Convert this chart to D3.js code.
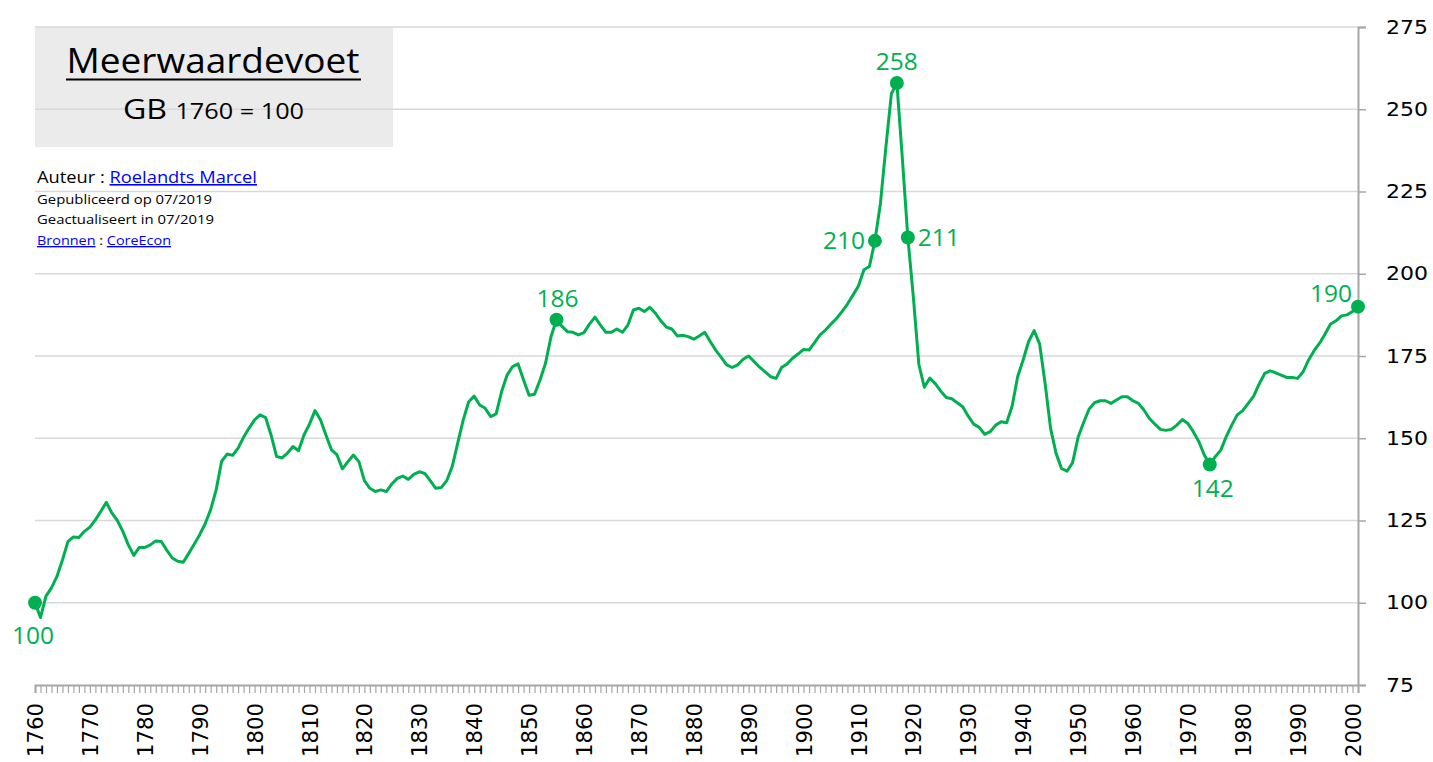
<!DOCTYPE html>
<html>
<head>
<meta charset="utf-8">
<script src="https://cdn.jsdelivr.net/npm/d3@7"></script>
<style>
  html, body { margin: 0; padding: 0; background: #fff; }
  svg { display: block; }
  text { font-family: "Open Sans", "Noto Sans", sans-serif; }
</style>
</head>
<body>
<svg id="chart" width="1433" height="762"></svg>
<script>
// Meerwaardevoet GB, 1760 = 100
const firstYear = 1760;
const lastYear = 2001;
const years = d3.range(firstYear, lastYear + 1);

// one value per year
const rate = [
  100, 95.5, 102, 104.5, 108, 113, 118.6, 120, 119.8, 121.7,           // 1760
  123, 125.2, 127.8, 130.5, 127.3, 125, 121.7, 117.6, 114.4, 116.8,    // 1770
  116.8, 117.6, 118.8, 118.6, 116, 113.6, 112.6, 112.3, 115, 117.8,    // 1780
  120.7, 124, 128.3, 134.3, 143, 145.2, 144.8, 147, 150.3, 153.1,      // 1790
  155.6, 157.1, 156.3, 151, 144.5, 144, 145.5, 147.5, 146.2, 151,      // 1800
  154.3, 158.4, 155.6, 151, 146.5, 145, 140.7, 142.9, 144.9, 142.9,    // 1810
  137.1, 134.8, 133.8, 134.3, 133.8, 136.1, 137.8, 138.5, 137.5, 139,  // 1820
  139.8, 139.3, 137.1, 134.8, 135, 137.1, 141.4, 148.5, 155.5, 161.1,  // 1830
  162.8, 160.1, 159.1, 156.6, 157.4, 164.2, 169.2, 171.8, 172.6, 167.7,// 1840
  163.1, 163.4, 167.7, 172.8, 180.9, 186, 184, 182.4, 182.2, 181.4,    // 1850
  182.1, 184.7, 186.8, 184.4, 182.2, 182.2, 183.2, 182.2, 184.4, 189,  // 1860
  189.5, 188.5, 189.8, 188, 185.7, 183.8, 183.2, 181.1, 181.3, 180.9,  // 1870
  180.1, 181.1, 182.2, 179.4, 176.8, 174.6, 172.3, 171.5, 172.3, 174,  // 1880
  175, 173.3, 171.6, 170.2, 168.7, 168.2, 171.5, 172.6, 174.3, 175.6,  // 1890
  177, 176.8, 179.1, 181.4, 182.9, 184.7, 186.4, 188.5, 190.8, 193.5,  // 1900
  196.3, 201.2, 202.2, 210, 221.3, 238.5, 254.7, 258, 235, 211,        // 1910
  193, 172.5, 165.5, 168.3, 166.6, 164.3, 162.4, 162, 160.8, 159.6,    // 1920
  156.7, 154.3, 153.3, 151.2, 152, 154, 155, 154.7, 159.8, 168.7,      // 1930
  173.8, 179.4, 182.7, 178.7, 166.7, 153, 145.4, 140.8, 140, 142.5,    // 1940
  150.2, 154.7, 158.8, 160.8, 161.4, 161.4, 160.6, 161.6, 162.6, 162.6,// 1950
  161.4, 160.6, 158.6, 156, 154.3, 152.7, 152.4, 152.7, 154, 155.7,    // 1960
  154.5, 152, 149, 144.9, 142, 144.4, 146.4, 150.5, 154, 157.1,        // 1970
  158.4, 160.6, 162.8, 166.5, 169.7, 170.5, 169.9, 169.2, 168.5, 168.5,// 1980
  168.2, 170.2, 173.8, 176.6, 178.9, 181.7, 184.7, 185.7, 187.2, 187.5,// 1990
  188.5, 190                                                           // 2000
];

const markedYears = [1760, 1855, 1913, 1917, 1919, 1974, 2001];
const markedLabels = ['100', '186', '210', '258', '211', '142', '190'];
const yTicks = [75, 100, 125, 150, 175, 200, 225, 250, 275];

const green = '#00b050';
const svg = d3.select('#chart');

const x = d3.scaleLinear().domain([firstYear, lastYear]).range([35, 1358]);
const y = d3.scaleLinear().domain([75, 275]).range([685, 27]);

const data = years.map((yr, i) => ({ year: yr, value: rate[i] }));

// title box
svg.append('rect')
  .attr('x', 35).attr('y', 27)
  .attr('width', 358).attr('height', 120)
  .attr('fill', '#ebebeb');

// gridlines
svg.append('g').selectAll('line')
  .data(yTicks.filter(d => d > 75))
  .enter().append('line')
  .attr('x1', 35).attr('x2', 1358)
  .attr('y1', d => y(d)).attr('y2', d => y(d))
  .attr('stroke', '#d9d9d9')
  .attr('stroke-width', 1.5);

// x axis
const xAxis = d3.axisBottom(x)
  .tickValues(years)
  .tickSize(8)
  .tickFormat(d => d % 10 === 0 ? d : '');

const gx = svg.append('g')
  .attr('transform', 'translate(0,685)')
  .call(xAxis);
gx.select('.domain').attr('stroke', '#a6a6a6').attr('stroke-width', 2);
gx.selectAll('.tick line').attr('stroke', '#a6a6a6').attr('stroke-width', 1.2);
gx.selectAll('.tick text')
  .attr('transform', 'rotate(-90)')
  .attr('text-anchor', 'end')
  .attr('x', -18).attr('y', 0).attr('dy', '0.36em')
  .attr('fill', '#000')
  .style('font-family', '"DejaVu Sans", sans-serif')
  .style('font-size', '21px')
  .filter(d => d % 10 === 0)
  .attr('textLength', 54)
  .attr('lengthAdjust', 'spacingAndGlyphs');

// y axis on the right
const yAxis = d3.axisRight(y)
  .tickValues(yTicks)
  .tickSize(8)
  .tickPadding(20);

const gy = svg.append('g')
  .attr('transform', 'translate(1358,0)')
  .call(yAxis);
gy.select('.domain').attr('stroke', '#a6a6a6').attr('stroke-width', 2);
gy.selectAll('.tick line').attr('stroke', '#a6a6a6').attr('stroke-width', 1.5);
gy.selectAll('.tick text')
  .attr('fill', '#000')
  .style('font-family', '"DejaVu Sans", sans-serif')
  .style('font-size', '19px')
  .attr('textLength', d => String(d).length * 14)
  .attr('lengthAdjust', 'spacingAndGlyphs');

// the line
const line = d3.line()
  .x(d => x(d.year))
  .y(d => y(d.value));

svg.append('path')
  .datum(data)
  .attr('fill', 'none')
  .attr('stroke', green)
  .attr('stroke-width', 3)
  .attr('stroke-linejoin', 'round')
  .attr('d', line);

// marked points
const marked = data.filter(d => markedYears.includes(d.year));
svg.append('g').selectAll('circle')
  .data(marked)
  .enter().append('circle')
  .attr('cx', d => x(d.year))
  .attr('cy', d => y(d.value))
  .attr('r', 7)
  .attr('fill', green);

// where each label sits relative to its point
const labelPlace = {
  1760: { dx: -2, dy: 41, anchor: 'middle' },
  1855: { dx: 1, dy: -13, anchor: 'middle' },
  1913: { dx: -10, dy: 8, anchor: 'end' },
  1917: { dx: 0, dy: -13, anchor: 'middle' },
  1919: { dx: 10, dy: 8, anchor: 'start' },
  1974: { dx: 3, dy: 32, anchor: 'middle' },
  2001: { dx: -6, dy: -5, anchor: 'end' }
};

svg.append('g').selectAll('text')
  .data(marked)
  .enter().append('text')
  .attr('x', d => x(d.year) + labelPlace[d.year].dx)
  .attr('y', d => y(d.value) + labelPlace[d.year].dy)
  .attr('text-anchor', d => labelPlace[d.year].anchor)
  .attr('fill', green)
  .style('font-size', '24.5px')
  .text(d => markedLabels[markedYears.indexOf(d.year)]);

// title
svg.append('text')
  .attr('x', 213).attr('y', 73)
  .attr('text-anchor', 'middle')
  .attr('textLength', 293).attr('lengthAdjust', 'spacingAndGlyphs')
  .style('font-size', '35px')
  .attr('fill', '#000')
  .text('Meerwaardevoet');
svg.append('line')
  .attr('x1', 66).attr('x2', 361)
  .attr('y1', 79.5).attr('y2', 79.5)
  .attr('stroke', '#000').attr('stroke-width', 2);

const sub = svg.append('text')
  .attr('x', 123).attr('y', 119)
  .attr('textLength', 181).attr('lengthAdjust', 'spacingAndGlyphs')
  .attr('fill', '#000');
sub.append('tspan').style('font-size', '28px').text('GB ');
sub.append('tspan').style('font-size', '22px').text('1760 = 100');

// credits
const credits = svg.append('g').attr('fill', '#000');
const auteur = credits.append('text')
  .attr('x', 37).attr('y', 183)
  .attr('textLength', 220).attr('lengthAdjust', 'spacingAndGlyphs')
  .style('font-size', '16px');
auteur.append('tspan').text('Auteur : ');
auteur.append('tspan').attr('fill', '#0000ff')
  .style('text-decoration', 'underline')
  .text('Roelandts Marcel');

credits.append('text')
  .attr('x', 37).attr('y', 204)
  .attr('textLength', 175).attr('lengthAdjust', 'spacingAndGlyphs')
  .style('font-size', '13.5px')
  .text('Gepubliceerd op 07/2019');
credits.append('text')
  .attr('x', 37).attr('y', 224)
  .attr('textLength', 177).attr('lengthAdjust', 'spacingAndGlyphs')
  .style('font-size', '13.5px')
  .text('Geactualiseert in 07/2019');

const bron = credits.append('text')
  .attr('x', 37).attr('y', 245)
  .attr('textLength', 134).attr('lengthAdjust', 'spacingAndGlyphs')
  .style('font-size', '13.5px');
bron.append('tspan').attr('fill', '#0000ff')
  .style('text-decoration', 'underline').text('Bronnen');
bron.append('tspan').text(' : ');
bron.append('tspan').attr('fill', '#0000ff')
  .style('text-decoration', 'underline').text('CoreEcon');
</script>
</body>
</html>
